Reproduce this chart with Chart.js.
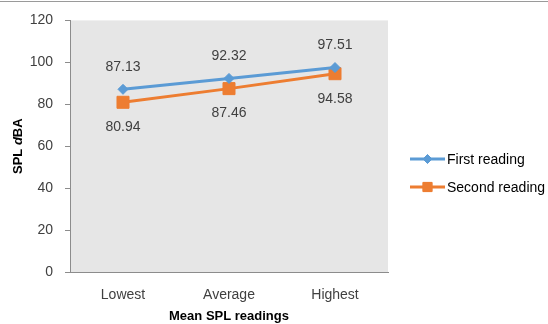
<!DOCTYPE html>
<html>
<head>
<meta charset="utf-8">
<script src="https://cdn.jsdelivr.net/npm/chart.js@4/dist/chart.umd.min.js"></script>
<style>
  html, body { margin: 0; padding: 0; background: #ffffff; }
  #wrap { width: 548px; height: 324px; }
</style>
</head>
<body>
<div id="wrap"><canvas id="c" width="548" height="324"></canvas></div>
<script>
// Mean sound pressure level readings (dBA)
const categories = ['Lowest', 'Average', 'Highest'];
const firstReading = [87.13, 92.32, 97.51];
const secondReading = [80.94, 87.46, 94.58];
const seriesNames = ['First reading', 'Second reading'];
const yTicks = [0, 20, 40, 60, 80, 100, 120];

const BLUE = '#5b9bd5';
const ORANGE = '#ed7d31';
const TEXT = '#404040';
const AXIS = '#8c8c8c';
const FONT = '"Liberation Sans", Arial, sans-serif';

// Grey plot background and the rule along the top edge
const backdrop = {
  id: 'backdrop',
  beforeDraw(chart) {
    const { ctx, chartArea: a } = chart;
    ctx.save();
    ctx.fillStyle = '#e6e6e6';
    ctx.fillRect(a.left, a.top, a.right - a.left, a.bottom - a.top);
    ctx.strokeStyle = '#9a9a9a';
    ctx.lineWidth = 1;
    ctx.beginPath();
    ctx.moveTo(0, 1.5);
    ctx.lineTo(548, 1.5);
    ctx.stroke();
    ctx.restore();
  }
};

// Value labels: first series above its points, second series below
const valueLabels = {
  id: 'valueLabels',
  afterDatasetsDraw(chart) {
    const { ctx } = chart;
    ctx.save();
    ctx.font = '14px ' + FONT;
    ctx.fillStyle = TEXT;
    ctx.textAlign = 'center';
    ctx.textBaseline = 'middle';
    chart.data.datasets.forEach((ds, i) => {
      const meta = chart.getDatasetMeta(i);
      meta.data.forEach((pt, j) => {
        const dy = i === 0 ? -22 : 25;
        ctx.fillText(ds.data[j].toFixed(2), pt.x, pt.y + dy);
      });
    });
    ctx.restore();
  }
};

// Axis titles and the line-and-marker legend
const annotations = {
  id: 'annotations',
  afterDraw(chart) {
    const { ctx, chartArea: a } = chart;
    ctx.save();
    ctx.fillStyle = '#000000';
    ctx.textBaseline = 'middle';

    // x title
    ctx.font = 'bold 13px ' + FONT;
    ctx.textAlign = 'center';
    ctx.fillText('Mean SPL readings', (a.left + a.right) / 2, 316);

    // y title: "SPL dBA" with an italic d
    ctx.translate(18, (a.top + a.bottom) / 2);
    ctx.rotate(-Math.PI / 2);
    const parts = [
      ['SPL ', 'bold 13px ' + FONT],
      ['d', 'italic bold 13px ' + FONT],
      ['BA', 'bold 13px ' + FONT]
    ];
    let total = 0;
    parts.forEach(p => { ctx.font = p[1]; total += ctx.measureText(p[0]).width; });
    let x = -total / 2;
    ctx.textAlign = 'left';
    parts.forEach(p => { ctx.font = p[1]; ctx.fillText(p[0], x, 0); x += ctx.measureText(p[0]).width; });
    ctx.setTransform(1, 0, 0, 1, 0, 0);

    // legend
    const items = [
      { label: seriesNames[0], color: BLUE, style: 'rectRot', r: 4.5, y: 159 },
      { label: seriesNames[1], color: ORANGE, style: 'rect', r: 6.5, y: 187 }
    ];
    ctx.font = '14px ' + FONT;
    ctx.textAlign = 'left';
    items.forEach(it => {
      ctx.strokeStyle = it.color;
      ctx.lineWidth = 3;
      ctx.beginPath();
      ctx.moveTo(410, it.y);
      ctx.lineTo(445, it.y);
      ctx.stroke();
      ctx.fillStyle = it.color;
      ctx.lineWidth = 1;
      Chart.helpers.drawPoint(ctx, { pointStyle: it.style, radius: it.r, borderWidth: 1 }, 427.5, it.y);
      ctx.fill();
      ctx.fillStyle = '#000000';
      ctx.fillText(it.label, 447, it.y + 1);
    });
    ctx.restore();
  }
};

new Chart(document.getElementById('c'), {
  type: 'line',
  data: {
    labels: categories,
    datasets: [
      {
        label: seriesNames[0],
        data: firstReading,
        borderColor: BLUE,
        backgroundColor: BLUE,
        borderWidth: 3,
        pointStyle: 'rectRot',
        pointRadius: 5,
        pointBorderWidth: 1,
        tension: 0
      },
      {
        label: seriesNames[1],
        data: secondReading,
        borderColor: ORANGE,
        backgroundColor: ORANGE,
        borderWidth: 3,
        pointStyle: 'rect',
        pointRadius: 8.5,
        pointBorderWidth: 1,
        tension: 0
      }
    ]
  },
  options: {
    responsive: false,
    animation: false,
    layout: { padding: { top: 18, right: 160, left: 0, bottom: 0 } },
    plugins: {
      legend: { display: false },
      tooltip: { enabled: false },
      title: { display: false }
    },
    scales: {
      x: {
        offset: true,
        grid: { display: false, drawTicks: false },
        border: { display: true, color: AXIS, width: 1 },
        ticks: { color: TEXT, font: { family: FONT, size: 14 }, padding: 15 },
        afterFit(scale) { scale.height = 52; }
      },
      y: {
        min: 0,
        max: 120,
        afterBuildTicks(scale) { scale.ticks = yTicks.map(v => ({ value: v })); },
        grid: { display: true, drawOnChartArea: false, drawTicks: true, tickLength: 5, color: AXIS },
        border: { display: true, color: AXIS, width: 1 },
        ticks: { color: TEXT, font: { family: FONT, size: 14 }, padding: 12 },
        afterFit(scale) { scale.width = 70; }
      }
    }
  },
  plugins: [backdrop, valueLabels, annotations]
});
</script>
</body>
</html>
